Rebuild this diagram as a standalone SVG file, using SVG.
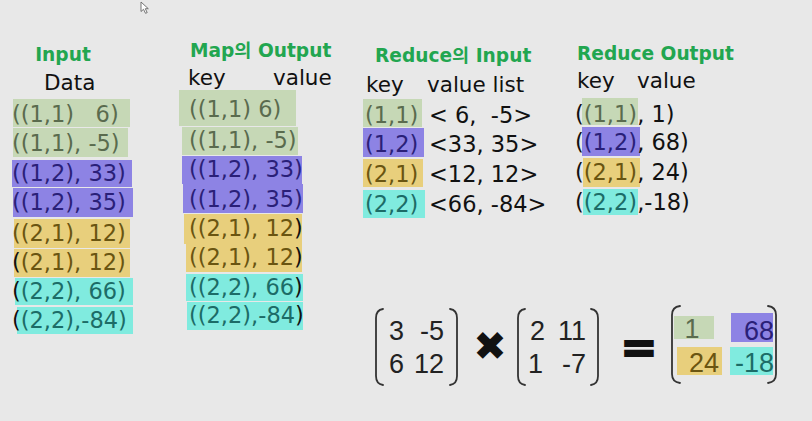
<svg xmlns="http://www.w3.org/2000/svg" width="812" height="421" viewBox="0 0 812 421">
<style>
.bg{fill:#e8e8e8}
.hd{font-family:"DejaVu Sans","Noto Sans CJK KR",sans-serif;font-weight:bold;font-size:18.6px;fill:#22a650}
.lb{font-family:"DejaVu Sans",sans-serif;font-size:21.5px;fill:#111}
.rw{font-family:"DejaVu Sans",sans-serif;font-size:22.5px;white-space:pre}
.mx{font-family:"Liberation Sans",Arial,sans-serif;font-size:27px;fill:#222}
.g{fill:#c6d8b6}.p{fill:#8d83e4}.y{fill:#e8cf7c}.c{fill:#80ebdf}
.tg{fill:#5a6b4e}.tp{fill:#2a1f78}.ty{fill:#6a5511}.tc{fill:#1c6c67}.tk{fill:#111}
.br{fill:none;stroke:#333;stroke-width:1.8;stroke-linecap:round}
</style>
<rect class="bg" x="0" y="0" width="812" height="421"/>
<polygon points="141,2 141,11.5 143.5,9.3 145.5,13.3 147.2,12.6 145.3,8.7 148.3,8.7" fill="#fff" stroke="#666" stroke-width="0.9"/>

<g id="input-data">
<text class="hd" x="63" y="61" text-anchor="middle">Input</text>
<text class="lb" x="44" y="90">Data</text>
<rect class="g" x="13" y="99" width="117" height="28"/>
<rect class="g" x="13" y="128" width="115" height="29"/>
<rect class="p" x="12" y="160" width="120" height="27"/>
<rect class="p" x="13" y="188" width="120" height="29"/>
<rect class="y" x="14" y="219" width="116" height="29"/>
<rect class="y" x="14" y="249" width="116" height="28"/>
<rect class="c" x="15" y="278" width="118" height="27"/>
<rect class="c" x="17" y="307" width="116" height="27"/>
<text class="rw tg" x="12" y="122">((1,1)   6)</text>
<text class="rw tg" x="12" y="151">((1,1), -5)</text>
<text class="rw tp" x="12" y="181">((1,2), 33)</text>
<text class="rw tp" x="12" y="210">((1,2), 35)</text>
<text class="rw ty" x="12" y="241">((2,1), 12)</text>
<text class="rw ty" x="12" y="270"><tspan class="tk">(</tspan>(2,1), 12)</text>
<text class="rw tc" x="12" y="299"><tspan class="tk">(</tspan>(2,2), 66)</text>
<text class="rw tc" x="12" y="328"><tspan class="tk">(</tspan>(2,2),-84)</text>
</g>

<g id="map-output">
<text class="hd" x="190" y="57">Map의 Output</text>
<text class="lb" x="188" y="85">key</text>
<text class="lb" x="273" y="85">value</text>
<rect class="g" x="179" y="90" width="117" height="36"/>
<rect class="g" x="182" y="127" width="116" height="28"/>
<rect class="p" x="182" y="156" width="120" height="28"/>
<rect class="p" x="183" y="184" width="120" height="29"/>
<rect class="y" x="184" y="214" width="118" height="30"/>
<rect class="y" x="186" y="244" width="116" height="28"/>
<rect class="c" x="186" y="274" width="117" height="27"/>
<rect class="c" x="187" y="302" width="116" height="28"/>
<text class="rw tg" x="189" y="117">((1,1) 6)</text>
<text class="rw tg" x="189" y="148">((1,1), -5)</text>
<text class="rw tp" x="189" y="177">((1,2), 33)</text>
<text class="rw tp" x="189" y="207">((1,2), 35)</text>
<text class="rw ty" x="189" y="236">((2,1), 12<tspan class="tk">)</tspan></text>
<text class="rw ty" x="189" y="265">((2,1), 12<tspan class="tk">)</tspan></text>
<text class="rw tc" x="189" y="295">((2,2), 66<tspan class="tk">)</tspan></text>
<text class="rw tc" x="189" y="323">((2,2),-84<tspan class="tk">)</tspan></text>
</g>

<g id="reduce-input">
<text class="hd" x="375" y="62">Reduce의 Input</text>
<text class="lb" x="366" y="92">key</text>
<text class="lb" x="427" y="92">value list</text>
<rect class="g" x="363" y="99" width="59" height="28"/>
<rect class="p" x="363" y="128" width="61" height="29"/>
<rect class="y" x="363" y="159" width="60" height="28"/>
<rect class="c" x="363" y="190" width="62" height="28"/>
<text class="rw tg" x="365" y="123">(1,1)</text>
<text class="rw tp" x="365" y="152">(1,2)</text>
<text class="rw ty" x="365" y="182">(2,1)</text>
<text class="rw tc" x="365" y="212">(2,2)</text>
<text class="rw tk" x="429" y="123">&lt; 6,  -5&gt;</text>
<text class="rw tk" x="429" y="152">&lt;33, 35&gt;</text>
<text class="rw tk" x="429" y="182">&lt;12, 12&gt;</text>
<text class="rw tk" x="429" y="212">&lt;66, -84&gt;</text>
</g>

<g id="reduce-output">
<text class="hd" x="577" y="60">Reduce Output</text>
<text class="lb" x="577" y="88">key</text>
<text class="lb" x="637" y="88">value</text>
<rect class="g" x="582" y="98" width="56" height="27"/>
<rect class="p" x="582" y="127" width="58" height="29"/>
<rect class="y" x="583" y="158" width="57" height="29"/>
<rect class="c" x="583" y="189" width="55" height="26"/>
<text class="rw tk" x="575" y="122">(<tspan class="tg">(1,1)</tspan>, 1)</text>
<text class="rw tk" x="575" y="150">(<tspan class="tp">(1,2)</tspan>, 68)</text>
<text class="rw tk" x="575" y="180">(<tspan class="ty">(2,1)</tspan>, 24)</text>
<text class="rw tk" x="575" y="210">(<tspan class="tc">(2,2)</tspan>,-18)</text>
</g>

<g id="matrix-a">
<path class="br" d="M383,309 Q376,310 376,318 L376,376 Q376,384 383,385"/>
<path class="br" d="M450,309 Q457,310 457,318 L457,376 Q457,384 450,385"/>
<text class="mx" x="389" y="340">3</text>
<text class="mx" x="444" y="340" text-anchor="end">-5</text>
<text class="mx" x="389" y="373">6</text>
<text class="mx" x="444" y="373" text-anchor="end">12</text>
</g>

<g id="times">
<text x="490" y="360" text-anchor="middle" style="font-family:'DejaVu Sans',sans-serif;font-size:40px;fill:#111">✖</text>
</g>

<g id="matrix-b">
<path class="br" d="M525,309 Q518,310 518,318 L518,376 Q518,384 525,385"/>
<path class="br" d="M591,309 Q598,310 598,318 L598,376 Q598,384 591,385"/>
<text class="mx" x="530" y="340">2</text>
<text class="mx" x="586" y="340" text-anchor="end">11</text>
<text class="mx" x="528" y="373">1</text>
<text class="mx" x="586" y="373" text-anchor="end">-7</text>
</g>

<g id="equals">
<text x="639" y="362" text-anchor="middle" style="font-family:'DejaVu Sans',sans-serif;font-weight:bold;font-size:44px;fill:#111;stroke:#111;stroke-width:2">=</text>
</g>

<g id="matrix-result">
<path class="br" d="M680,306 Q672,307 672,315 L672,374 Q672,382 680,383"/>
<path class="br" d="M768,306 Q776,307 776,315 L776,374 Q776,382 768,383"/>
<rect class="g" x="674" y="316" width="40" height="23"/>
<rect class="p" x="731" y="313" width="42" height="29"/>
<rect class="y" x="677" y="347" width="45" height="28"/>
<rect class="c" x="730" y="347" width="43" height="28"/>
<text class="mx tg" x="692" y="338" text-anchor="middle">1</text>
<text class="mx tp" x="774" y="340" text-anchor="end">68</text>
<text class="mx ty" x="704" y="372" text-anchor="middle">24</text>
<text class="mx tc" x="774" y="372" text-anchor="end">-18</text>
</g>
</svg>
